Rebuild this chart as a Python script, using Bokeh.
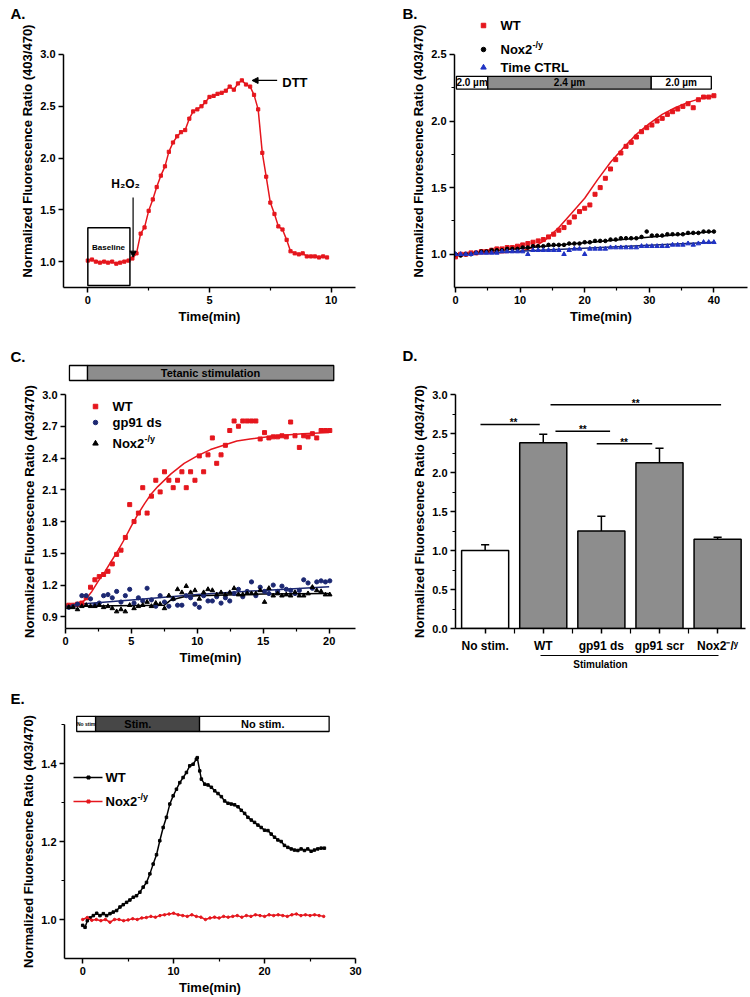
from bokeh.plotting import figure
from bokeh.layouts import column, row
from bokeh.models import (Range1d, FixedTicker, PrintfTickFormatter, Label, Arrow, NormalHead,
                          BoxAnnotation, LinearAxis, ColumnDataSource)
from bokeh.core.properties import value
from bokeh.embed import file_html
from bokeh.resources import INLINE

FONT = "Liberation Sans"
RED = "#e5161d"
BLUE = "#2033c4"
NAVY = "#1c2872"
GREY = "#8d8d8d"
DARK = "#474747"
YTITLE = "Normalized Fluorescence Ratio (403/470)"
NOX = "Nox2\u207b/\u02b8"

# ---------------- data ----------------
# Panel A
a_time = [0.0, 0.17, 0.33, 0.5, 0.67, 0.83, 1.0, 1.17, 1.33, 1.5, 1.67, 1.83, 2.0, 2.17, 2.33, 2.5,
          2.67, 2.83, 3.0, 3.17, 3.33, 3.5, 3.67, 3.83, 4.0, 4.17, 4.33, 4.5, 4.67, 4.83, 5.0, 5.17,
          5.33, 5.5, 5.67, 5.83, 6.0, 6.17, 6.33, 6.5, 6.67, 6.83, 7.0, 7.17, 7.33, 7.5, 7.67, 7.83,
          8.0, 8.17, 8.33, 8.5, 8.67, 8.83, 9.0, 9.17, 9.33, 9.5, 9.67, 9.83]
a_ratio = [1.01, 1.02, 1.00, 0.99, 1.00, 0.99, 1.00, 0.98, 0.99, 1.00,
           1.01, 1.03, 1.08, 1.27, 1.33, 1.49, 1.60, 1.72, 1.83, 1.92,
           2.06, 2.15, 2.21, 2.25, 2.27, 2.38, 2.45, 2.47, 2.50, 2.54,
           2.59, 2.60, 2.62, 2.63, 2.65, 2.69, 2.66, 2.72, 2.75, 2.71,
           2.69, 2.61, 2.47, 2.05, 1.82, 1.57, 1.46, 1.34, 1.31, 1.21,
           1.10, 1.08, 1.07, 1.08, 1.05, 1.05, 1.05, 1.04, 1.05, 1.04]

# Panel B
b_series = ["WT", "Nox2", "Time CTRL"]
b_time = [0, 0.8, 1.6, 2.4, 3.2, 4.0, 4.8, 5.6, 6.4, 7.2, 8.0, 8.8, 9.6, 10.4, 11.2, 12.0, 12.8,
          13.6, 14.4, 15.2, 16.0, 16.8, 17.6, 18.4, 19.2, 20.0, 20.8, 21.6, 22.4, 23.2, 24.0, 24.8,
          25.6, 26.4, 27.2, 28.0, 28.8, 29.6, 30.4, 31.2, 32.0, 32.8, 33.6, 34.4, 35.2, 36.0, 36.8,
          37.6, 38.4, 39.2, 40.0]
b_wt = [0.98, 1.0, 1.0, 1.01, 1.01, 1.02, 1.02, 1.03, 1.04, 1.04,
        1.05, 1.05, 1.06, 1.07, 1.08, 1.09, 1.10, 1.11, 1.13, 1.15,
        1.18, 1.20, 1.24, 1.28, 1.32, 1.345, 1.37, 1.45, 1.50, 1.57,
        1.64, 1.71, 1.76, 1.81, 1.84, 1.88, 1.92, 1.95, 1.97, 2.00,
        2.02, 2.05, 2.07, 2.09, 2.11, 2.13, 2.10, 2.16, 2.18, 2.18, 2.19]
b_nox = [1.0, 0.99, 1.0, 1.0, 1.01, 1.02, 1.02, 1.03, 1.03, 1.03,
         1.04, 1.04, 1.04, 1.05, 1.05, 1.06, 1.06, 1.06, 1.07, 1.07,
         1.07, 1.07, 1.08, 1.08, 1.08, 1.09, 1.09, 1.10, 1.10, 1.10,
         1.11, 1.11, 1.12, 1.12, 1.12, 1.12, 1.13, 1.17, 1.14, 1.14,
         1.14, 1.15, 1.15, 1.15, 1.15, 1.16, 1.16, 1.16, 1.17, 1.17, 1.17]
b_ctrl = [1.0, 1.0, 1.0, 1.0, 1.01, 1.01, 1.01, 1.01, 1.01, 1.02,
          1.02, 1.02, 1.02, 1.02, 1.0, 1.03, 1.03, 1.03, 1.03, 1.03,
          1.03, 1.0, 1.03, 1.04, 1.04, 1.0, 1.04, 1.04, 1.04, 1.04,
          1.05, 1.05, 1.05, 1.05, 1.05, 1.05, 1.06, 1.06, 1.06, 1.06,
          1.06, 1.06, 1.07, 1.07, 1.07, 1.08, 1.07, 1.08, 1.09, 1.09, 1.09]
b_fit_wt_t = [0, 5, 10, 12, 14, 16, 18, 20, 22, 24, 26, 28, 30, 32, 34, 36, 38, 40]
b_fit_wt = [1.0, 1.005, 1.02, 1.05, 1.11, 1.20, 1.31, 1.42, 1.56, 1.69, 1.80, 1.90, 1.98, 2.05,
            2.10, 2.14, 2.17, 2.19]
b_fit_lin_t = [0, 40]
b_fit_nox = [1.0, 1.17]
b_fit_ctrl = [1.0, 1.09]
b_bar_edges = [0.15, 5.0, 30.3, 39.6]
b_bar_labels = ["2.0 \u00b5m", "2.4 \u00b5m", "2.0 \u00b5m"]

# Panel C
c_series = ["WT", "gp91 ds", "Nox2"]
c_time = [0.25, 0.58, 0.91, 1.24, 1.57, 1.9, 2.23, 2.56, 2.89, 3.22, 3.55, 3.88, 4.21, 4.54, 4.87,
          5.2, 5.53, 5.86, 6.19, 6.52, 6.85, 7.18, 7.51, 7.84, 8.17, 8.5, 8.83, 9.16, 9.49, 9.82,
          10.15, 10.48, 10.81, 11.14, 11.47, 11.8, 12.13, 12.46, 12.79, 13.12, 13.45, 13.78, 14.11,
          14.44, 14.77, 15.1, 15.43, 15.76, 16.09, 16.42, 16.75, 17.08, 17.41, 17.74, 18.07, 18.4,
          18.73, 19.06, 19.39, 19.72, 20.05]
c_wt = [1.01, 1.01, 1.02, 1.03, 1.08, 1.18, 1.25, 1.28, 1.30, 1.33,
        1.40, 1.49, 1.53, 1.65, 1.96, 1.80, 1.88, 2.12, 1.88, 2.04,
        2.19, 2.08, 2.27, 2.19, 2.12, 2.19, 2.27, 2.12, 2.27, 2.19,
        2.42, 2.27, 2.43, 2.59, 2.35, 2.43, 2.52, 2.66, 2.75, 2.70,
        2.75, 2.75, 2.75, 2.75, 2.58, 2.64, 2.59, 2.60, 2.60, 2.61,
        2.60, 2.74, 2.61, 2.50, 2.61, 2.60, 2.63, 2.59, 2.66, 2.66, 2.66]
c_gp91 = [0.99, 1.00, 1.02, 1.10, 1.10, 1.07, 1.01, 1.03, 1.10, 1.11,
          1.08, 1.14, 1.04, 1.10, 1.16, 1.03, 1.08, 1.05, 1.17, 1.06,
          1.00, 1.10, 1.04, 1.00, 1.07, 1.01, 1.01, 1.10, 1.08, 1.02,
          0.99, 1.10, 1.05, 1.05, 1.09, 1.03, 1.08, 1.05, 1.12, 1.16,
          1.09, 1.14, 1.23, 1.10, 1.18, 1.14, 1.12, 1.20, 1.14, 1.19,
          1.16, 1.15, 1.12, 1.15, 1.25, 1.22, 1.17, 1.23, 1.24, 1.23, 1.24]
c_nox = [0.99, 0.99, 0.97, 1.00, 1.01, 1.00, 1.00, 1.01, 0.99, 1.00,
         0.98, 0.95, 0.97, 0.95, 1.01, 0.98, 1.00, 1.01, 1.04, 1.00,
         1.03, 1.02, 0.98, 1.10, 1.07, 1.16, 1.13, 1.19, 1.13, 1.15,
         1.07, 1.13, 1.16, 1.15, 1.11, 1.13, 1.11, 1.13, 1.17, 1.11,
         1.11, 1.12, 1.12, 1.12, 1.15, 1.04, 1.17, 1.10, 1.12, 1.10,
         1.11, 1.10, 1.13, 1.10, 1.10, 1.12, 1.18, 1.15, 1.14, 1.11, 1.11]
c_fit_wt_t = [0, 0.5, 1.0, 1.5, 2.0, 2.5, 3.0, 3.5, 4.0, 4.5, 5.0, 5.5, 6.0, 6.5, 7.0, 8.0, 9.0,
              10.0, 11.0, 12.0, 13.0, 14.0, 16.0, 18.0, 20.0]
c_fit_wt = [1.0, 1.0, 1.02, 1.06, 1.14, 1.24, 1.33, 1.43, 1.53, 1.64, 1.76, 1.87, 1.97, 2.06,
            2.13, 2.25, 2.35, 2.42, 2.48, 2.52, 2.56, 2.58, 2.61, 2.63, 2.64]
c_fit_gp91_t = [0, 5, 10, 15, 20]
c_fit_gp91 = [1.01, 1.06, 1.11, 1.15, 1.185]
c_fit_nox_t = [0, 7.5, 8.0, 9.0, 10.0, 15.0, 20.0]
c_fit_nox = [1.0, 1.01, 1.06, 1.09, 1.10, 1.115, 1.12]
c_bar_edges = [0.3, 1.67, 20.35]

# Panel D
d_cats = ["No stim.", "WT", "gp91 ds", "gp91 scr", NOX]
d_means = [1.0, 2.38, 1.25, 2.125, 1.145]
d_err = [0.075, 0.11, 0.19, 0.185, 0.025]
d_colors = ["white", GREY, GREY, GREY, GREY]
d_sig_x0 = [0.92, 2.21, 2.92, 2.125]
d_sig_x1 = [1.94, 3.15, 3.875, 5.06]
d_sig_y = [2.616, 2.53, 2.37, 2.87]
d_sig_star_x = [1.49, 2.68, 3.39, 3.59]

# Panel E
e_wt_t = [0, 0.26, 0.51, 0.8, 1.17, 1.54, 1.9, 2.27, 2.63, 3.0, 3.36, 3.73, 4.1, 4.46, 4.83, 5.19,
          5.56, 5.92, 6.29, 6.65, 7.02, 7.39, 7.75, 8.12, 8.48, 8.85, 9.21, 9.58, 9.95, 10.31, 10.68,
          11.04, 11.41, 11.77, 12.14, 12.5, 12.6, 12.87, 13.05, 13.42, 13.78, 14.15, 14.52, 14.88,
          15.25, 15.61, 15.98, 16.34, 16.71, 17.08, 17.44, 17.81, 18.17, 18.54, 18.9, 19.27, 19.63,
          20.0, 20.37, 20.73, 21.1, 21.46, 21.83, 22.19, 22.56, 22.93, 23.29, 23.66, 24.02, 24.39,
          24.75, 25.12, 25.48, 25.85, 26.22, 26.58]
e_wt = [0.985, 0.98, 0.997, 1.004, 1.01, 1.016, 1.01, 1.015, 1.01, 1.015,
        1.019, 1.023, 1.032, 1.038, 1.044, 1.05, 1.057, 1.061, 1.07, 1.083,
        1.095, 1.117, 1.142, 1.166, 1.202, 1.236, 1.262, 1.296, 1.317, 1.334,
        1.351, 1.364, 1.377, 1.394, 1.398, 1.411, 1.415, 1.381, 1.36, 1.347,
        1.345, 1.339, 1.33, 1.323, 1.315, 1.304, 1.298, 1.296, 1.294, 1.289,
        1.28, 1.272, 1.262, 1.255, 1.249, 1.242, 1.236, 1.229, 1.228, 1.219,
        1.211, 1.204, 1.2, 1.19, 1.185, 1.181, 1.178, 1.177, 1.181, 1.177,
        1.181, 1.175, 1.178, 1.181, 1.183, 1.183]
e_nox_t = [0, 0.5, 1.0, 1.5, 2.0, 2.5, 3.0, 3.5, 4.0, 4.5, 5.0, 5.5, 6.0, 6.5, 7.0, 7.5, 8.0, 8.5,
           9.0, 9.5, 10.0, 10.5, 11.0, 11.5, 12.0, 12.5, 13.0, 13.5, 14.0, 14.5, 15.0, 15.5, 16.0,
           16.5, 17.0, 17.5, 18.0, 18.5, 19.0, 19.5, 20.0, 20.5, 21.0, 21.5, 22.0, 22.5, 23.0, 23.5,
           24.0, 24.5, 25.0, 25.5, 26.0, 26.5]
e_nox = [1.0, 1.005, 0.998, 1.0, 0.997, 1.0, 0.993, 1.0, 1.0, 0.997,
         0.999, 1.002, 1.0, 1.004, 1.005, 1.008, 1.006, 1.01, 1.012, 1.014,
         1.016, 1.012, 1.01, 1.008, 1.012, 1.008, 1.006, 1.0, 1.004, 1.006,
         1.004, 1.008, 1.006, 1.008, 1.01, 1.006, 1.01, 1.008, 1.012, 1.01,
         1.008, 1.012, 1.01, 1.012, 1.01, 1.008, 1.012, 1.014, 1.01, 1.012,
         1.01, 1.012, 1.01, 1.008]
e_bar_edges = [-0.66, 1.42, 12.85, 27.1]


# ---------------- helpers ----------------
def make_fig(w, h, xr, yr, borders):
    bl, br, bt, bb = borders
    p = figure(width=w, height=h, x_range=Range1d(*xr), y_range=Range1d(*yr),
               output_backend="svg", toolbar_location=None, title=None,
               min_border_left=bl, min_border_right=br, min_border_top=bt, min_border_bottom=bb)
    p.xgrid.visible = False
    p.ygrid.visible = False
    p.outline_line_color = None
    p.background_fill_color = "white"
    p.border_fill_color = "white"
    for ax in (p.xaxis[0], p.yaxis[0]):
        ax.axis_line_width = 1.5
        ax.axis_line_color = "black"
        ax.major_tick_line_width = 1.5
        ax.minor_tick_line_width = 1.2
        ax.major_tick_line_color = "black"
        ax.minor_tick_line_color = "black"
        ax.major_tick_in = 0
        ax.major_tick_out = 5
        ax.minor_tick_in = 0
        ax.minor_tick_out = 3
        ax.major_label_text_font = FONT
        ax.major_label_text_font_style = "bold"
        ax.major_label_text_font_size = "11px"
        ax.major_label_text_color = "black"
        ax.major_label_standoff = 3
        ax.axis_label_text_font = FONT
        ax.axis_label_text_font_style = "bold"
        ax.axis_label_text_font_size = "13px"
        ax.axis_label_text_color = "black"
        ax.axis_label_standoff = 2
    p.yaxis[0].formatter = PrintfTickFormatter(format="%.1f")
    p.yaxis[0].axis_label = YTITLE
    return p


def mapper(frame, xr, yr):
    L, R, T, B = frame
    return lambda px, py: (xr[0] + (px - L) * (xr[1] - xr[0]) / (R - L),
                           yr[1] - (py - T) * (yr[1] - yr[0]) / (B - T))


def txt(p, x, y, s, size, align="center", baseline="middle", color="black"):
    p.add_layout(Label(x=x, y=y, text=s, text_font=FONT, text_font_size=f"{size}px",
                       text_font_style="bold", text_align=align, text_baseline=baseline,
                       text_color=color))


def otext(p, x, y, s, size, align="left", color="black"):
    # text glyph on the overlay level, so it may sit outside the plot frame
    p.text(x=[x], y=[y], text=[s], text_font=value(FONT), text_font_style="bold",
           text_font_size=value(f"{size}px"), text_align=align, text_baseline="middle",
           text_color=color, level="overlay")


def obox(p, l, r, b, t, col):
    p.quad(left=[l], right=[r], bottom=[b], top=[t], fill_color=col, line_color="black",
           line_width=1.3, level="overlay")


def nox_label(p, m, px, py, size=13):
    otext(p, *m(px, py), "Nox2", size)
    otext(p, *m(px + 32, py - 5), "-/y", 9)


# ---------------- Panel A ----------------
# frame reaches to the top of the row (shared with B); the y axis is bounded to 0.75-3.0
xrA, yrA = (-1, 11), (0.75, 3.386)
pA = make_fig(375, 340, xrA, yrA, (63, 20, 14, 53))
mA = mapper((63, 355, 14, 287), xrA, yrA)
pA.yaxis.bounds = (0.75, 3.0)
pA.xaxis.ticker = FixedTicker(ticks=[0, 5, 10], minor_ticks=[2.5, 7.5])
pA.yaxis.ticker = FixedTicker(ticks=[1.0, 1.5, 2.0, 2.5, 3.0], minor_ticks=[])
pA.xaxis.axis_label = "Time(min)"
pA.line(a_time, a_ratio, color=RED, line_width=1.5)
pA.scatter(a_time, a_ratio, marker="square", size=3.2, color=RED)
pA.add_layout(BoxAnnotation(left=0.0, right=1.73, bottom=0.77, top=1.327, fill_color=None,
                            line_color="black", line_alpha=1, line_width=1.5))
txt(pA, 0.85, 1.136, "Baseline", 8)
pA.add_layout(Arrow(end=NormalHead(size=6, fill_color="black", line_color="black"),
                    x_start=1.86, y_start=1.62, x_end=1.86, y_end=1.043, line_width=1.2))
txt(pA, 1.55, 1.745, "H\u2082O\u2082", 12)
pA.add_layout(Arrow(end=NormalHead(size=6, fill_color="black", line_color="black"),
                    x_start=7.78, y_start=2.749, x_end=6.75, y_end=2.749, line_width=1.2))
txt(pA, 7.99, 2.733, "DTT", 13, align="left")
otext(pA, *mA(10, 13), "A.", 15)

# ---------------- Panel B ----------------
# the frame reaches up to the legend; the y axis itself is bounded to 0.75-2.5
xrB, yrB = (-0.15, 45.2), (0.75, 2.80)
pB = make_fig(375, 340, xrB, yrB, (79, 3, 14, 53))
mB = mapper((454, 747, 14, 287), xrB, yrB)
pB.yaxis.bounds = (0.75, 2.5)
pB.xaxis.ticker = FixedTicker(ticks=[0, 10, 20, 30, 40], minor_ticks=[5, 15, 25, 35])
pB.yaxis.ticker = FixedTicker(ticks=[1.0, 1.5, 2.0, 2.5], minor_ticks=[1.25, 1.75, 2.25])
pB.xaxis.axis_label = "Time(min)"
pB.line(b_fit_wt_t, b_fit_wt, color=RED, line_width=1.5)
pB.line(b_fit_lin_t, b_fit_nox, color="black", line_width=1.5)
pB.line(b_fit_lin_t, b_fit_ctrl, color=NAVY, line_width=1.5)
pB.scatter(b_time, b_wt, marker="square", size=4, color=RED)
pB.scatter(b_time, b_nox, marker="circle", size=3.6, color="black")
pB.scatter(b_time, b_ctrl, marker="triangle", size=4.5, color=BLUE)
bar_cols = ["white", GREY, "white"]
for i, lab in enumerate(b_bar_labels):
    l, r = b_bar_edges[i], b_bar_edges[i + 1]
    obox(pB, l, r, 2.24, 2.335, bar_cols[i])
    otext(pB, (l + r) / 2, 2.288, lab, 10, align="center")
for (py, marker, col, sz) in [(25, "square", RED, 4.5), (49, "circle", "black", 4.5),
                              (67, "triangle", BLUE, 5.5)]:
    x, y = mB(483, py)
    pB.scatter([x], [y], marker=marker, size=sz, color=col)
otext(pB, *mB(500, 25), b_series[0], 13)
nox_label(pB, mB, 500, 49)
otext(pB, *mB(500, 67), b_series[2], 13)
otext(pB, *mB(402, 13), "B.", 15)

# ---------------- Panel C ----------------
xrC, yrC = (0, 22), (0.79, 3.0)
pC = make_fig(375, 340, xrC, yrC, (65, 20, 54, 52))
mC = mapper((65, 355, 394, 628), xrC, yrC)
pC.xaxis.ticker = FixedTicker(ticks=[0, 5, 10, 15, 20], minor_ticks=[2.5, 7.5, 12.5, 17.5])
pC.yaxis.ticker = FixedTicker(ticks=[0.9, 1.2, 1.5, 1.8, 2.1, 2.4, 2.7, 3.0], minor_ticks=[])
pC.xaxis.axis_label = "Time(min)"
pC.line(c_fit_wt_t, c_fit_wt, color=RED, line_width=1.5)
pC.line(c_fit_gp91_t, c_fit_gp91, color=NAVY, line_width=1.5)
pC.line(c_fit_nox_t, c_fit_nox, color="black", line_width=1.5)
pC.scatter(c_time, c_wt, marker="square", size=4, color=RED)
pC.scatter(c_time, c_gp91, marker="circle", size=4.2, color=NAVY)
pC.scatter(c_time, c_nox, marker="triangle", size=4.5, color="black")
obox(pC, c_bar_edges[0], c_bar_edges[1], 3.132, 3.274, "white")
obox(pC, c_bar_edges[1], c_bar_edges[2], 3.132, 3.274, GREY)
otext(pC, 11.0, 3.203, "Tetanic stimulation", 11, align="center")
for (py, marker, col, sz) in [(406, "square", RED, 4.5), (422, "circle", NAVY, 4.5),
                              (443, "triangle", "black", 5.5)]:
    x, y = mC(95, py)
    pC.scatter([x], [y], marker=marker, size=sz, color=col)
otext(pC, *mC(112, 406), c_series[0], 13)
otext(pC, *mC(112, 422), c_series[1], 13)
nox_label(pC, mC, 112, 443)
otext(pC, *mC(10, 356), "C.", 15)

# ---------------- Panel D ----------------
xrD, yrD = (0.49, 5.48), (0, 3.0)
pD = make_fig(375, 340, xrD, yrD, (80, 5, 54, 52))
mD = mapper((455, 745, 394, 628), xrD, yrD)
d_pos = list(range(1, len(d_cats) + 1))
pD.xaxis.ticker = FixedTicker(ticks=d_pos, minor_ticks=[1.5, 2.5, 3.5, 4.5])
pD.xaxis.major_label_overrides = {pos: cat for pos, cat in zip(d_pos, d_cats)}
pD.xaxis.major_label_text_font_size = "12px"
pD.xaxis.major_label_standoff = 5
pD.xaxis.minor_tick_out = 5
pD.yaxis.ticker = FixedTicker(ticks=[0.0, 0.5, 1.0, 1.5, 2.0, 2.5, 3.0],
                              minor_ticks=[0.25, 0.75, 1.25, 1.75, 2.25, 2.75])
d_top = [m + e for m, e in zip(d_means, d_err)]
srcD = ColumnDataSource(dict(x=d_pos, top=d_means, color=d_colors, etop=d_top,
                             cl=[x - 0.07 for x in d_pos], cr=[x + 0.07 for x in d_pos]))
pD.segment(x0="x", y0="top", x1="x", y1="etop", source=srcD, line_color="black", line_width=1.5)
pD.segment(x0="cl", y0="etop", x1="cr", y1="etop", source=srcD, line_color="black", line_width=1.5)
pD.vbar(x="x", top="top", width=0.81, bottom=0, source=srcD, fill_color="color",
        line_color="black", line_width=1.5)
pD.segment(x0=d_sig_x0, y0=d_sig_y, x1=d_sig_x1, y1=d_sig_y, line_color="black", line_width=1.5)
for sx, sy in zip(d_sig_star_x, d_sig_y):
    txt(pD, sx, sy + 0.02, "**", 10, baseline="alphabetic")
stim_axis = LinearAxis(bounds=(1.95, 5.02), ticker=FixedTicker(ticks=[]), axis_label="Stimulation",
                       major_tick_out=3, minor_tick_out=0, major_tick_in=0, minor_tick_in=0,
                       axis_line_width=1.2, axis_line_color="black",
                       axis_label_text_font=FONT, axis_label_text_font_style="bold",
                       axis_label_text_font_size="10px", axis_label_text_color="black",
                       axis_label_standoff=3)
pD.add_layout(stim_axis, "below")
otext(pD, *mD(402, 355), "D.", 15)

# ---------------- Panel E ----------------
xrE, yrE = (-2, 30), (0.9, 1.5)
pE = make_fig(375, 317, xrE, yrE, (64, 20, 44, 39))
mE = mapper((64, 355, 724, 958), xrE, yrE)
pE.xaxis.ticker = FixedTicker(ticks=[0, 10, 20, 30], minor_ticks=[5, 15, 25])
pE.yaxis.ticker = FixedTicker(ticks=[1.0, 1.2, 1.4], minor_ticks=[1.1, 1.3, 1.5])
pE.xaxis.axis_label = "Time(min)"
pE.line(e_wt_t, e_wt, color="black", line_width=1.5)
pE.scatter(e_wt_t, e_wt, marker="square", size=2.5, color="black")
pE.line(e_nox_t, e_nox, color=RED, line_width=1.5)
pE.scatter(e_nox_t, e_nox, marker="circle", size=2.5, color=RED)
e_cols = ["white", DARK, "white"]
for i in range(3):
    obox(pE, e_bar_edges[i], e_bar_edges[i + 1], 1.482, 1.521, e_cols[i])
otext(pE, 0.38, 1.5015, "No stim", 5, align="center")
otext(pE, 6.06, 1.5015, "Stim.", 11, align="center")
otext(pE, 19.8, 1.5015, "No stim.", 11, align="center")
for (py, col) in [(777, "black"), (801, RED)]:
    x0, y0 = mE(73, py)
    x1, _ = mE(102, py)
    xm, _ = mE(88, py)
    pE.line([x0, x1], [y0, y0], color=col, line_width=1.5)
    pE.scatter([xm], [y0], marker="square", size=3, color=col)
otext(pE, *mE(105, 777), "WT", 13)
nox_label(pE, mE, 105, 801)
otext(pE, *mE(10, 698), "E.", 15)

layout = column(row(pA, pB), row(pC, pD), row(pE))
open("out.html", "w").write(file_html(layout, INLINE, title="Normalized fluorescence ratio"))
